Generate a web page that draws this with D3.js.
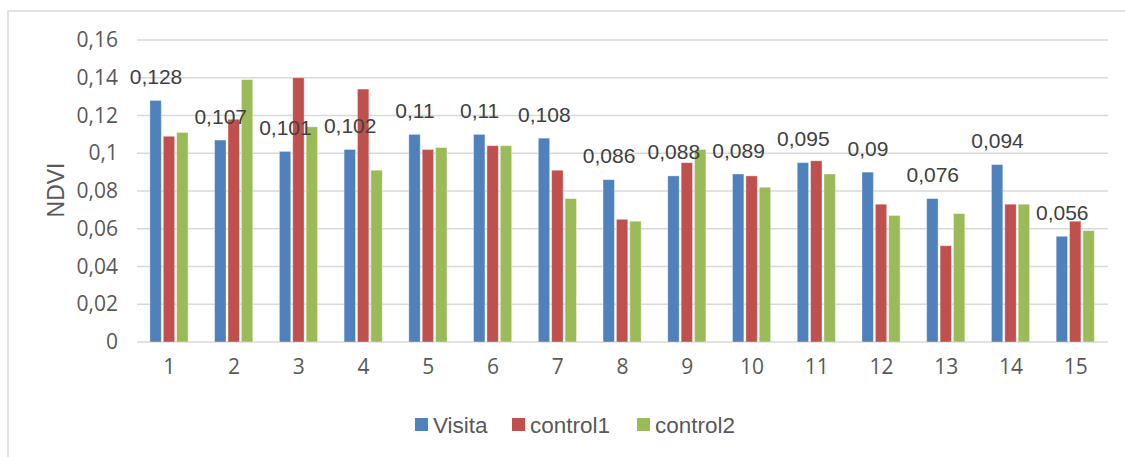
<!DOCTYPE html>
<html>
<head>
<meta charset="utf-8">
<script src="https://cdn.jsdelivr.net/npm/d3@7"></script>
<style>
  body { margin: 0; background: #fff; }
  svg { display: block; }
</style>
</head>
<body>
<svg id="chart" width="1125" height="457"></svg>
<script>
// values
var categories = ["1","2","3","4","5","6","7","8","9","10","11","12","13","14","15"]
var seriesNames = ["Visita", "control1", "control2"]
var visita   = [0.128, 0.107, 0.101, 0.102, 0.11, 0.11, 0.108, 0.086, 0.088, 0.089, 0.095, 0.09, 0.076, 0.094, 0.056]
var control1 = [0.109, 0.118, 0.140, 0.134, 0.102, 0.104, 0.091, 0.065, 0.095, 0.088, 0.096, 0.073, 0.051, 0.073, 0.064]
var control2 = [0.111, 0.139, 0.114, 0.091, 0.103, 0.104, 0.076, 0.064, 0.102, 0.082, 0.089, 0.067, 0.068, 0.073, 0.059]
var yTicks = [0, 0.02, 0.04, 0.06, 0.08, 0.1, 0.12, 0.14, 0.16]
var colors = ["#4f81bd", "#c0504d", "#9bbb59"]

var comma = function(v){ return String(v).replace(".", ",") }

var svg = d3.select('#chart')
var plotLeft = 137, plotRight = 1108, plotTop = 40, plotBottom = 342

// chart frame (only top and left edges are in view)
svg.append('path')
  .attr('d', 'M8,457 V11 H1125')
  .attr('fill', 'none')
  .attr('stroke', '#d9d9d9')
  .attr('stroke-width', 1.5)

var y = d3.scaleLinear().domain([0, 0.16]).range([plotBottom, plotTop])
var x = d3.scaleBand().domain(categories).range([plotLeft, plotRight])
  .paddingInner(0.38).paddingOuter(0.19)
var xs = d3.scaleBand().domain(seriesNames).range([0, x.bandwidth()])

// gridlines
svg.append('g').selectAll('line')
  .data(yTicks)
  .enter().append('line')
  .attr('x1', plotLeft).attr('x2', plotRight)
  .attr('y1', d => y(d)).attr('y2', d => y(d))
  .attr('stroke', '#d9d9d9')
  .attr('stroke-width', 1.5)

// y tick labels
var yAxis = svg.append('g')
  .attr('transform', 'translate(' + (plotLeft - 1) + ',0)')
  .call(d3.axisLeft(y).tickValues(yTicks).tickSize(0).tickPadding(18).tickFormat(comma))
yAxis.select('.domain').remove()
yAxis.selectAll('text')
  .attr('fill', '#595959')
  .style('font-family', '"Open Sans", sans-serif')
  .style('font-size', '21px')

// x tick labels
var xAxis = svg.append('g')
  .attr('transform', 'translate(0,' + plotBottom + ')')
  .call(d3.axisBottom(x).tickSize(0).tickPadding(17))
xAxis.select('.domain').remove()
xAxis.selectAll('text')
  .attr('fill', '#595959')
  .style('font-family', '"Open Sans", sans-serif')
  .style('font-size', '21px')

// bars
var table = categories.map(function(c, i){
  return {cat: c, vals: [visita[i], control1[i], control2[i]]}
})

var groups = svg.append('g').selectAll('g')
  .data(table)
  .enter().append('g')
  .attr('transform', d => 'translate(' + x(d.cat) + ',0)')

groups.selectAll('rect')
  .data(d => d.vals.map((v, j) => ({name: seriesNames[j], v: v, j: j})))
  .enter().append('rect')
  .attr('x', d => xs(d.name) + 0.6)
  .attr('width', xs.bandwidth() - 2)
  .attr('y', d => y(d.v))
  .attr('height', d => y(0) - y(d.v))
  .attr('fill', d => colors[d.j])
  .attr('stroke', '#ffffff')
  .attr('stroke-opacity', 0.45)
  .attr('stroke-width', 0.8)

// data labels on Visita
svg.append('g').selectAll('text')
  .data(table)
  .enter().append('text')
  .attr('x', d => x(d.cat) + xs('Visita') + xs.bandwidth() / 2)
  .attr('y', d => y(d.vals[0]) - 16.5)
  .attr('text-anchor', 'middle')
  .attr('fill', '#404040')
  .style('font-family', '"Liberation Sans", Arial, sans-serif')
  .style('font-size', '21px')
  .text(d => comma(d.vals[0]))

// y axis title
svg.append('text')
  .attr('transform', 'translate(64,190) rotate(-90)')
  .attr('text-anchor', 'middle')
  .attr('fill', '#595959')
  .style('font-family', '"Liberation Sans", Arial, sans-serif')
  .style('font-size', '23px')
  .text('NDVI')

// legend
var legendX = [415, 512, 637]
var legend = svg.append('g').selectAll('g')
  .data(seriesNames)
  .enter().append('g')
  .attr('transform', (d, i) => 'translate(' + legendX[i] + ',418)')
legend.append('rect')
  .attr('width', 13).attr('height', 13)
  .attr('fill', (d, i) => colors[i])
legend.append('text')
  .attr('x', 18).attr('y', 14.5)
  .attr('fill', '#595959')
  .style('font-family', '"Liberation Sans", Arial, sans-serif')
  .style('font-size', '22.5px')
  .text(d => d)
</script>
</body>
</html>
